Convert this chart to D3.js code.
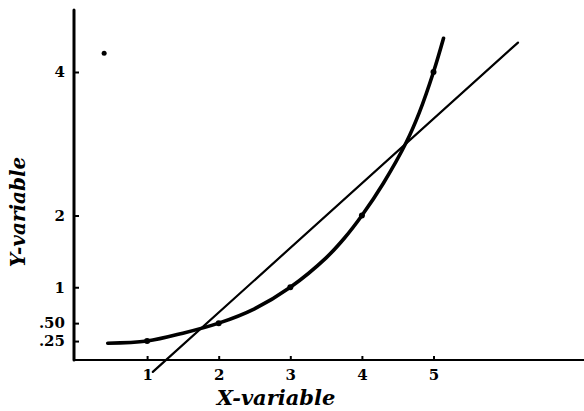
<!DOCTYPE html>
<html><head><meta charset="utf-8">
<script src="https://cdn.jsdelivr.net/npm/d3@7"></script>
<style>body{margin:0;background:#fff}</style>
</head><body>
<svg id="c" width="584" height="411"></svg>
<script>
const xTicks = [1, 2, 3, 4, 5];
const xTickLabels = ["1", "2", "3", "4", "5"];
const yTicks = [0.25, 0.5, 1, 2, 4];
const yTickLabels = [".25", ".50", "1", "2", "4"];
const pointX = [1, 2, 3, 4, 5];
const pointY = [0.25, 0.5, 1, 2, 4];
const curveX = [0.45, 1, 1.5, 2, 2.5, 3, 3.5, 3.76, 4, 4.3, 4.62, 4.8, 5, 5.14];
const curveY = [0.22, 0.25, 0.36, 0.5, 0.7, 1, 1.41, 1.69, 2, 2.45, 3.02, 3.43, 4, 4.47];
const lineX = [1.08, 6.18];
const lineY = [-0.18, 4.41];
const strayX = [0.4];
const strayY = [4.26];

const svg = d3.select("#c");
const x = d3.scaleLinear().domain([0, 7]).range([75.5, 576.7]);
const y = d3.scaleLinear().domain([0, 4]).range([359, 72]);

svg.append("line").attr("x1", 74).attr("x2", 74).attr("y1", 10).attr("y2", 360)
  .attr("stroke", "#000").attr("stroke-width", 3).attr("stroke-linecap", "round");
svg.append("line").attr("x1", 73).attr("x2", 584).attr("y1", 360).attr("y2", 360)
  .attr("stroke", "#000").attr("stroke-width", 2.2);

const font = "'DejaVu Serif', serif";
const yAxis = d3.axisLeft(y).tickValues(yTicks).tickSize(-5)
  .tickFormat((d, i) => yTickLabels[i]).tickPadding(9);
const gy = svg.append("g").attr("transform", "translate(74,0)").call(yAxis);
gy.select(".domain").remove();
gy.selectAll(".tick line").attr("stroke", "#000").attr("stroke-width", 2);
gy.selectAll(".tick text").attr("font-family", font).attr("font-weight", "bold")
  .attr("font-size", 15).attr("fill", "#000");

const xAxis = d3.axisBottom(x).tickValues(xTicks).tickSize(-4)
  .tickFormat((d, i) => xTickLabels[i]).tickPadding(9);
const gx = svg.append("g").attr("transform", "translate(0,360)").call(xAxis);
gx.select(".domain").remove();
gx.selectAll(".tick line").attr("stroke", "#000").attr("stroke-width", 2);
gx.selectAll(".tick text").attr("font-family", font).attr("font-weight", "bold")
  .attr("font-size", 15).attr("fill", "#000");

svg.append("path")
  .attr("d", d3.line().x((d, i) => x(lineX[i])).y((d, i) => y(lineY[i]))(lineX))
  .attr("fill", "none").attr("stroke", "#000").attr("stroke-width", 2.2)
  .attr("stroke-linecap", "round");

svg.append("path")
  .attr("d", d3.line().curve(d3.curveCatmullRom.alpha(0.5))
    .x((d, i) => x(curveX[i])).y((d, i) => y(curveY[i]))(curveX))
  .attr("fill", "none").attr("stroke", "#000").attr("stroke-width", 3.6)
  .attr("stroke-linecap", "round");

svg.selectAll(".pt").data(pointX).join("circle").attr("class", "pt")
  .attr("cx", (d) => x(d)).attr("cy", (d, i) => y(pointY[i])).attr("r", 3)
  .attr("fill", "#000");

svg.selectAll(".sp").data(strayX).join("circle").attr("class", "sp")
  .attr("cx", (d) => x(d)).attr("cy", (d, i) => y(strayY[i])).attr("r", 2.5)
  .attr("fill", "#000");

svg.append("text").attr("x", 276).attr("y", 405).attr("text-anchor", "middle")
  .attr("font-family", font).attr("font-weight", "bold").attr("font-style", "italic")
  .attr("font-size", 21).attr("fill", "#000").text("X-variable");
svg.append("text").attr("transform", "translate(25,212) rotate(-90)")
  .attr("text-anchor", "middle")
  .attr("font-family", font).attr("font-weight", "bold").attr("font-style", "italic")
  .attr("font-size", 20).attr("fill", "#000").text("Y-variable");
</script>
</body></html>
